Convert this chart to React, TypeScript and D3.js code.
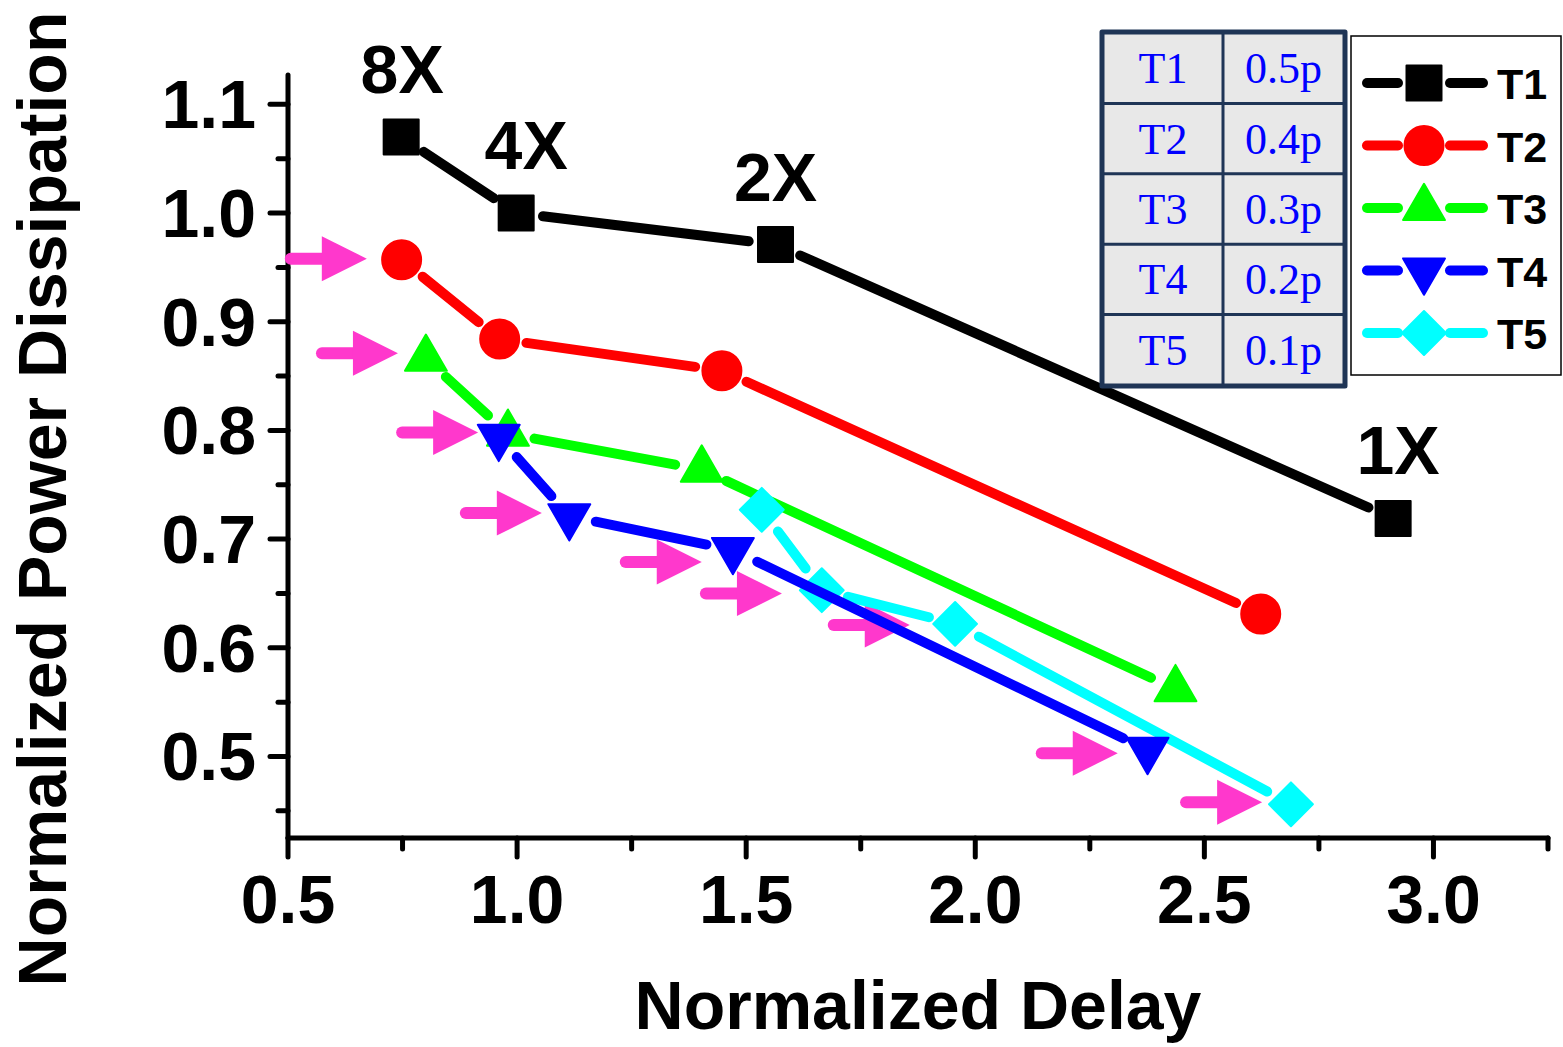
import React from "react";
import * as d3 from "d3";

// ---------- data ----------
const seriesNames = ["T1", "T2", "T3", "T4", "T5"];
const t1X = [0.747, 0.998, 1.564, 2.912];
const t1Y = [1.07, 1.0, 0.971, 0.719];
const t2X = [0.748, 0.962, 1.447, 2.623];
const t2Y = [0.957, 0.884, 0.855, 0.631];
const t3X = [0.801, 0.98, 1.403, 2.437];
const t3Y = [0.866, 0.797, 0.764, 0.562];
const t4X = [0.96, 1.114, 1.471, 2.376];
const t4Y = [0.794, 0.721, 0.69, 0.506];
const t5X = [1.534, 1.665, 1.956, 2.689];
const t5Y = [0.727, 0.653, 0.622, 0.456];

const sizeLabels = ["8X", "4X", "2X", "1X"];

const arrowTipX = [0.672, 0.74, 0.915, 1.054, 1.403, 1.578, 1.857, 2.311, 2.626];
const arrowTipY = [0.958, 0.871, 0.798, 0.724, 0.679, 0.65, 0.621, 0.503, 0.458];

const tableNames = ["T1", "T2", "T3", "T4", "T5"];
const tableValues = ["0.5p", "0.4p", "0.3p", "0.2p", "0.1p"];

const xMajorTicks = [0.5, 1.0, 1.5, 2.0, 2.5, 3.0];
const xMinorTicks = [0.75, 1.25, 1.75, 2.25, 2.75, 3.25];
const yMajorTicks = [0.5, 0.6, 0.7, 0.8, 0.9, 1.0, 1.1];
const yMinorTicks = [0.45, 0.55, 0.65, 0.75, 0.85, 0.95, 1.05];

// ---------- styles ----------
const colors = ["#000000", "#ff0000", "#00ff00", "#0000ff", "#00ffff"];
const symbolTypes = ["square", "circle", "triUp", "triDown", "diamond"];
const arrowColor = "#ff38cc";
const sans = "'Liberation Sans', Arial, sans-serif";
const serif = "'Liberation Serif', 'Times New Roman', serif";
const labelDx = [1, 10, 0, 5];

const W = 1563;
const H = 1047;
const x0 = 288, x1 = 1548, yTop = 75, yBot = 838;

const xScale = d3.scaleLinear().domain([0.5, 3.25]).range([x0, x1]);
const yScale = d3.scaleLinear().domain([0.425, 1.127]).range([yBot, yTop]);

function symbolPath(type: string): { d: string; rot: number } {
  switch (type) {
    case "square":
      return { d: d3.symbol(d3.symbolSquare, 35 * 35)()!, rot: 0 };
    case "circle":
      return { d: d3.symbol(d3.symbolCircle, Math.PI * 19.5 * 19.5)()!, rot: 0 };
    case "triUp":
      return { d: d3.symbol(d3.symbolTriangle, 760)()!, rot: 0 };
    case "triDown":
      return { d: d3.symbol(d3.symbolTriangle, 760)()!, rot: 180 };
    default:
      return { d: d3.symbol(d3.symbolSquare, 31 * 31)()!, rot: 45 };
  }
}

function Marker({ cx, cy, type, color }: { cx: number; cy: number; type: string; color: string }) {
  const s = symbolPath(type);
  return (
    <path
      d={s.d}
      transform={`translate(${cx},${cy}) rotate(${s.rot})`}
      fill={color}
      stroke={color}
      strokeWidth={2}
      strokeLinejoin="round"
    />
  );
}

function Series({ xs, ys, color, type }: { xs: number[]; ys: number[]; color: string; type: string }) {
  const pts = xs.map((x, i) => [xScale(x), yScale(ys[i])]);
  const gap = 27;
  const segs: JSX.Element[] = [];
  for (let i = 0; i < pts.length - 1; i++) {
    const [ax, ay] = pts[i];
    const [bx, by] = pts[i + 1];
    const len = Math.hypot(bx - ax, by - ay);
    const ux = (bx - ax) / len, uy = (by - ay) / len;
    if (len <= 2 * gap) continue;
    segs.push(
      <line
        key={i}
        x1={ax + ux * gap}
        y1={ay + uy * gap}
        x2={bx - ux * gap}
        y2={by - uy * gap}
        stroke={color}
        strokeWidth={10}
        strokeLinecap="round"
      />
    );
  }
  return (
    <g>
      {segs}
      {pts.map((p, i) => (
        <Marker key={i} cx={p[0]} cy={p[1]} type={type} color={color} />
      ))}
    </g>
  );
}

function Arrow({ tx, ty }: { tx: number; ty: number }) {
  const len = 76;
  const headLen = 45;
  const headHalf = 22.5;
  return (
    <g>
      <line
        x1={tx - len}
        y1={ty}
        x2={tx - headLen + 2}
        y2={ty}
        stroke={arrowColor}
        strokeWidth={12}
        strokeLinecap="round"
      />
      <path
        d={`M${tx},${ty} L${tx - headLen},${ty - headHalf} L${tx - headLen},${ty + headHalf} Z`}
        fill={arrowColor}
      />
    </g>
  );
}

export default function App() {
  const xsAll = [t1X, t2X, t3X, t4X, t5X];
  const ysAll = [t1Y, t2Y, t3Y, t4Y, t5Y];

  // table layout
  const tbX = 1103, tbY = 33, colW = [120, 121], rowH = 70.4;
  const tbW = colW[0] + colW[1];
  const tbH = rowH * 5;

  // legend layout
  const lgX = 1351, lgY = 36, lgW = 210, lgH = 339;

  return (
    <svg
      width={W}
      height={H}
      style={{ position: "absolute", left: 0, top: 0, background: "#fff" }}
    >
      <rect x={0} y={0} width={W} height={H} fill="#fff" />

      {/* axes */}
      <g stroke="#000" strokeWidth={5} strokeLinecap="round">
        <line x1={x0} y1={yTop} x2={x0} y2={yBot} />
        <line x1={x0} y1={yBot} x2={x1} y2={yBot} />
        {xMajorTicks.map((t) => (
          <line key={"xM" + t} x1={xScale(t)} y1={yBot} x2={xScale(t)} y2={yBot + 19} />
        ))}
        {xMinorTicks.map((t) => (
          <line key={"xm" + t} x1={xScale(t)} y1={yBot} x2={xScale(t)} y2={yBot + 11} />
        ))}
        {yMajorTicks.map((t) => (
          <line key={"yM" + t} x1={x0} y1={yScale(t)} x2={x0 - 18} y2={yScale(t)} />
        ))}
        {yMinorTicks.map((t) => (
          <line key={"ym" + t} x1={x0} y1={yScale(t)} x2={x0 - 10} y2={yScale(t)} />
        ))}
      </g>
      <g fontFamily={sans} fontWeight="bold" fontSize={68} fill="#000">
        {xMajorTicks.map((t) => (
          <text key={"xl" + t} x={xScale(t)} y={923} textAnchor="middle">
            {d3.format(".1f")(t)}
          </text>
        ))}
        {yMajorTicks.map((t) => (
          <text key={"yl" + t} x={256} y={yScale(t) + 24} textAnchor="end">
            {d3.format(".1f")(t)}
          </text>
        ))}
        <text x={918} y={1029} textAnchor="middle">Normalized Delay</text>
        <text transform="translate(66,499) rotate(-90)" textAnchor="middle">
          Normalized Power Dissipation
        </text>
      </g>

      {/* arrows */}
      {arrowTipX.map((ax, i) => (
        <Arrow key={"a" + i} tx={xScale(ax)} ty={yScale(arrowTipY[i])} />
      ))}

      {/* series */}
      {[0, 1, 2, 4, 3].map((k) => (
        <Series key={k} xs={xsAll[k]} ys={ysAll[k]} color={colors[k]} type={symbolTypes[k]} />
      ))}

      {/* size labels */}
      <g fontFamily={sans} fontWeight="bold" fontSize={68} fill="#000">
        {sizeLabels.map((l, i) => (
          <text
            key={l}
            x={xScale(t1X[i]) + labelDx[i]}
            y={yScale(t1Y[i]) - 44}
            textAnchor="middle"
          >
            {l}
          </text>
        ))}
      </g>

      {/* table */}
      <g>
        <rect x={tbX} y={tbY} width={tbW} height={tbH} fill="#e8e8e8" />
        {tableNames.map((n, i) => (
          <g key={n}>
            <text
              x={tbX + colW[0] / 2}
              y={tbY + rowH * i + rowH / 2 + 15}
              textAnchor="middle"
              fontFamily={serif}
              fontSize={44}
              fill="#0000ff"
            >
              {n}
            </text>
            <text
              x={tbX + colW[0] + colW[1] / 2}
              y={tbY + rowH * i + rowH / 2 + 15}
              textAnchor="middle"
              fontFamily={serif}
              fontSize={44}
              fill="#0000ff"
            >
              {tableValues[i]}
            </text>
          </g>
        ))}
        <g stroke="#1f3556" strokeWidth={3}>
          {[1, 2, 3, 4].map((r) => (
            <line key={r} x1={tbX} x2={tbX + tbW} y1={tbY + rowH * r} y2={tbY + rowH * r} />
          ))}
          <line x1={tbX + colW[0]} x2={tbX + colW[0]} y1={tbY} y2={tbY + tbH} />
        </g>
        <rect
          x={tbX - 1}
          y={tbY - 1}
          width={tbW + 2}
          height={tbH + 2}
          fill="none"
          stroke="#1f3556"
          strokeWidth={5}
          strokeLinejoin="round"
        />
      </g>

      {/* legend */}
      <g>
        <rect x={lgX} y={lgY} width={lgW} height={lgH} fill="#fff" stroke="#000" strokeWidth={1.5} />
        {seriesNames.map((n, i) => {
          const cy = 83 + i * 62.5;
          return (
            <g key={n}>
              <line x1={1367} x2={1398} y1={cy} y2={cy} stroke={colors[i]} strokeWidth={10} strokeLinecap="round" />
              <line x1={1450} x2={1483} y1={cy} y2={cy} stroke={colors[i]} strokeWidth={10} strokeLinecap="round" />
              <Marker cx={1424} cy={cy} type={symbolTypes[i]} color={colors[i]} />
              <text x={1497} y={cy + 16} fontFamily={sans} fontWeight="bold" fontSize={43} fill="#000">
                {n}
              </text>
            </g>
          );
        })}
      </g>
    </svg>
  );
}
